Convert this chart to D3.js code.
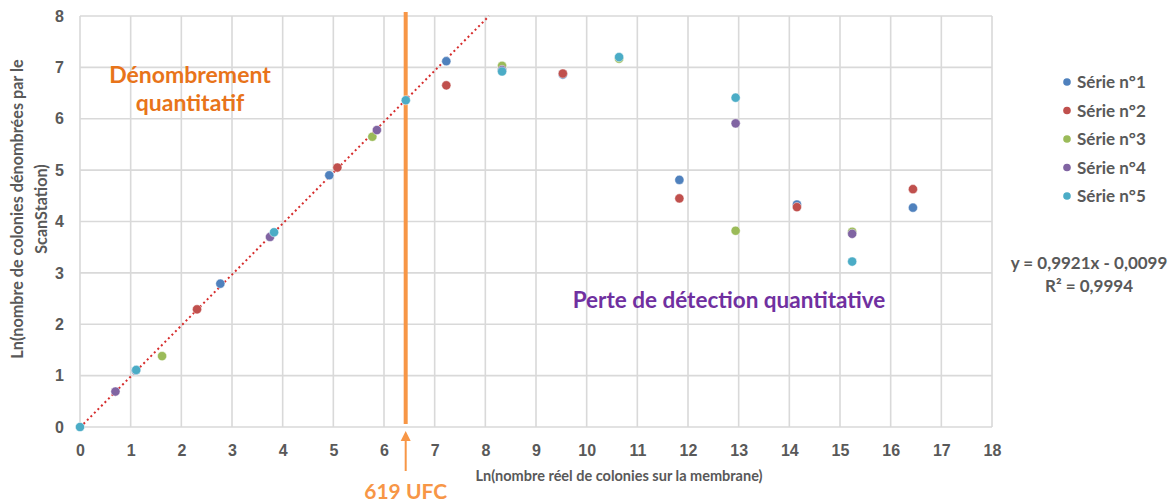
<!DOCTYPE html>
<html>
<head>
<meta charset="utf-8">
<script src="https://cdn.jsdelivr.net/npm/d3@7"></script>
<style>
  body { margin: 0; background: #fff; }
  svg { font-family: Lato, "Open Sans", sans-serif; }
</style>
</head>
<body>
<div id="chart"></div>
<script>
var seriesNames = ["Série n°1", "Série n°2", "Série n°3", "Série n°4", "Série n°5"]
var seriesColors = ["#4F81BD", "#C0504D", "#9BBB59", "#8064A2", "#4BACC6"]

// [ln(reel), ln(scanstation)]
var serie1 = [[1.10, 1.10], [2.77, 2.79], [4.92, 4.90], [7.23, 7.12], [8.33, 6.95], [9.53, 6.86], [11.83, 4.81], [14.15, 4.33], [16.44, 4.27]]
var serie2 = [[2.31, 2.29], [5.08, 5.05], [7.23, 6.65], [9.53, 6.88], [11.83, 4.45], [14.15, 4.28], [16.44, 4.63]]
var serie3 = [[1.62, 1.38], [5.77, 5.65], [8.33, 7.03], [10.64, 7.17], [12.94, 3.82], [15.24, 3.80]]
var serie4 = [[0.70, 0.69], [3.75, 3.70], [5.86, 5.78], [8.33, 6.95], [12.94, 5.91], [15.24, 3.76]]
var serie5 = [[0, 0], [1.11, 1.11], [3.83, 3.79], [6.43, 6.36], [8.33, 6.92], [10.64, 7.20], [12.94, 6.41], [15.24, 3.22]]
var allSeries = [serie1, serie2, serie3, serie4, serie5]

var xTicks = d3.range(0, 19)
var yTicks = d3.range(0, 9)
var slope = 0.9921, intercept = -0.0099
var limitX = Math.log(619)

var width = 1172, height = 502
var svg = d3.select("#chart").append("svg")
  .attr("width", width)
  .attr("height", height)

var x = d3.scaleLinear().domain([0, 18]).range([80, 992])
var y = d3.scaleLinear().domain([0, 8]).range([427, 16])

// grid
svg.append("g").selectAll("line")
  .data(xTicks)
  .enter().append("line")
  .attr("x1", function(d) { return x(d) })
  .attr("x2", function(d) { return x(d) })
  .attr("y1", y(0))
  .attr("y2", y(8))
  .attr("stroke", "#d9d9d9")
  .attr("stroke-width", 1.6)

svg.append("g").selectAll("line")
  .data(yTicks)
  .enter().append("line")
  .attr("x1", x(0))
  .attr("x2", x(18))
  .attr("y1", function(d) { return y(d) })
  .attr("y2", function(d) { return y(d) })
  .attr("stroke", "#d9d9d9")
  .attr("stroke-width", 1.6)

// axes
var xAxis = svg.append("g")
  .attr("transform", "translate(0," + y(0) + ")")
  .call(d3.axisBottom(x).tickValues(xTicks).tickSize(0).tickPadding(18).tickFormat(d3.format("d")))
xAxis.select(".domain").remove()
xAxis.selectAll("text")
  .attr("fill", "#595959")
  .style("font-size", "16px")
  .style("font-weight", "bold")

var yAxis = svg.append("g")
  .attr("transform", "translate(" + x(0) + ",0)")
  .call(d3.axisLeft(y).tickValues(yTicks).tickSize(0).tickPadding(16).tickFormat(d3.format("d")))
yAxis.select(".domain").remove()
yAxis.selectAll("text")
  .attr("fill", "#595959")
  .style("font-size", "16px")
  .style("font-weight", "bold")

// trend line
svg.append("line")
  .attr("x1", x(0))
  .attr("y1", y(intercept))
  .attr("x2", x((8 - intercept) / slope))
  .attr("y2", y(8))
  .attr("stroke", "#d62d2d")
  .attr("stroke-width", 2)
  .attr("stroke-dasharray", "2,3")

// 619 UFC limit
svg.append("line")
  .attr("x1", x(limitX))
  .attr("x2", x(limitX))
  .attr("y1", 12)
  .attr("y2", 424)
  .attr("stroke", "#F79646")
  .attr("stroke-width", 4)

svg.append("line")
  .attr("x1", x(limitX))
  .attr("x2", x(limitX))
  .attr("y1", 471)
  .attr("y2", 438)
  .attr("stroke", "#F79646")
  .attr("stroke-width", 2)
svg.append("path")
  .attr("d", "M" + (x(limitX) - 5) + ",441 L" + x(limitX) + ",431 L" + (x(limitX) + 5) + ",441 Z")
  .attr("fill", "#F79646")

svg.append("text")
  .attr("x", x(limitX))
  .attr("y", 499)
  .attr("text-anchor", "middle")
  .attr("fill", "#F79646")
  .style("font-size", "21px")
  .style("font-weight", "bold")
  .text("619 UFC")

// points
allSeries.forEach(function(s, i) {
  svg.append("g").selectAll("circle")
    .data(s)
    .enter().append("circle")
    .attr("cx", function(d) { return x(d[0]) })
    .attr("cy", function(d) { return y(d[1]) })
    .attr("r", 4.6)
    .attr("fill", seriesColors[i])
    .attr("stroke", "#ffffff")
    .attr("stroke-opacity", 0.6)
    .attr("stroke-width", 0.8)
})

// annotations
svg.append("text")
  .attr("x", 190)
  .attr("y", 83)
  .attr("text-anchor", "middle")
  .attr("fill", "#E8741A")
  .style("font-size", "23px")
  .style("font-weight", "bold")
  .text("Dénombrement")
svg.append("text")
  .attr("x", 190)
  .attr("y", 111)
  .attr("text-anchor", "middle")
  .attr("fill", "#E8741A")
  .style("font-size", "23px")
  .style("font-weight", "bold")
  .text("quantitatif")

svg.append("text")
  .attr("x", 729)
  .attr("y", 308)
  .attr("text-anchor", "middle")
  .attr("fill", "#7030A0")
  .style("font-size", "22.5px")
  .style("font-weight", "bold")
  .text("Perte de détection quantitative")

// axis titles
svg.append("text")
  .attr("x", 619)
  .attr("y", 481)
  .attr("text-anchor", "middle")
  .attr("fill", "#595959")
  .style("font-size", "14.5px")
  .style("font-weight", "bold")
  .text("Ln(nombre réel de colonies sur la membrane)")

var yTitle = svg.append("text")
  .attr("transform", "translate(23,209) rotate(-90)")
  .attr("text-anchor", "middle")
  .attr("fill", "#595959")
  .style("font-size", "16.2px")
  .style("font-weight", "bold")
yTitle.append("tspan").attr("x", 0).attr("dy", 0).text("Ln(nombre de colonies dénombrées par le")
yTitle.append("tspan").attr("x", 0).attr("dy", 24).text("ScanStation)")

// legend
var legend = svg.append("g").selectAll("g")
  .data(seriesNames)
  .enter().append("g")
  .attr("transform", function(d, i) { return "translate(1067," + (82 + i * 28.5) + ")" })
legend.append("circle")
  .attr("r", 3.8)
  .attr("fill", function(d, i) { return seriesColors[i] })
legend.append("text")
  .attr("x", 10)
  .attr("y", 6)
  .attr("fill", "#595959")
  .style("font-size", "17px")
  .style("font-weight", "bold")
  .text(function(d) { return d })

svg.append("text")
  .attr("x", 1089)
  .attr("y", 269)
  .attr("text-anchor", "middle")
  .attr("fill", "#595959")
  .style("font-size", "17px")
  .style("font-weight", "bold")
  .text("y = 0,9921x - 0,0099")
svg.append("text")
  .attr("x", 1089)
  .attr("y", 292)
  .attr("text-anchor", "middle")
  .attr("fill", "#595959")
  .style("font-size", "17px")
  .style("font-weight", "bold")
  .text("R² = 0,9994")
</script>
</body>
</html>
